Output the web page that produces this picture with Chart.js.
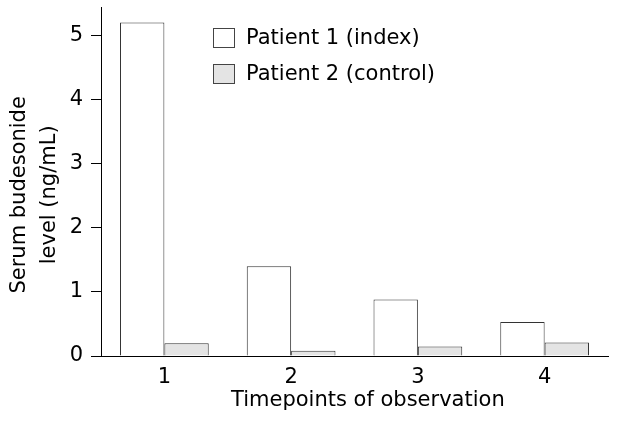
<!DOCTYPE html>
<html>
<head>
<meta charset="utf-8">
<title>Serum budesonide level</title>
<script src="https://cdn.jsdelivr.net/npm/chart.js@4"></script>
<style>
  body { margin: 0; background: #fff; }
  canvas { display: block; }
</style>
</head>
<body>
<canvas id="chart" width="628" height="426"></canvas>
<script>
// values
const timepoints = ['1', '2', '3', '4'];
const patient1 = [5.2, 1.4, 0.88, 0.53];
const patient2 = [0.2, 0.08, 0.15, 0.21];
const seriesNames = ['Patient 1 (index)', 'Patient 2 (control)'];
const yTicks = [0, 1, 2, 3, 4, 5];

const FONT = 'DejaVu Sans';
const SIZE = 21;

// legend drawn inside the plot, stacked vertically
const boxLegend = {
    id: 'boxLegend',
    afterDraw(chart) {
        const ctx = chart.ctx;
        const x0 = chart.chartArea.left + 112;
        let y = chart.chartArea.top + 31;
        ctx.save();
        ctx.font = SIZE + 'px "' + FONT + '"';
        ctx.textBaseline = 'middle';
        chart.data.datasets.forEach(ds => {
            ctx.fillStyle = ds.backgroundColor;
            ctx.fillRect(x0, y - 10, 22, 20);
            ctx.strokeStyle = '#444';
            ctx.lineWidth = 1;
            ctx.strokeRect(x0 + 0.5, y - 9.5, 21, 19);
            ctx.fillStyle = '#000';
            ctx.fillText(ds.label, x0 + 33, y + 1);
            y += 36;
        });
        ctx.restore();
    }
};

new Chart(document.getElementById('chart'), {
    type: 'bar',
    data: {
        labels: timepoints,
        datasets: [
            { label: seriesNames[0], data: patient1, backgroundColor: '#ffffff', borderColor: '#333', borderWidth: 1 },
            { label: seriesNames[1], data: patient2, backgroundColor: '#e4e4e4', borderColor: '#333', borderWidth: 1 }
        ]
    },
    options: {
        responsive: false,
        animation: false,
        layout: { padding: { top: 7, right: 20, left: 0, bottom: 0 } },
        datasets: { bar: { categoryPercentage: 0.7, barPercentage: 1 } },
        plugins: {
            legend: { display: false },
            tooltip: { enabled: false }
        },
        scales: {
            x: {
                grid: { display: false, drawTicks: false },
                border: { display: true, color: '#000', width: 1 },
                ticks: { color: '#000', padding: 9, font: { family: FONT, size: SIZE } },
                title: {
                    display: true,
                    text: '    Timepoints of observation',
                    color: '#000',
                    font: { family: FONT, size: SIZE },
                    padding: { top: 0, bottom: 13 }
                },
                afterFit(scale) {
                    scale.height = 70;
                    scale.paddingLeft = 0;
                    scale.paddingRight = 0;
                }
            },
            y: {
                min: 0,
                max: 5.44,
                grid: { drawOnChartArea: false, drawTicks: true, tickLength: 10, color: '#000' },
                border: { display: true, color: '#000', width: 1 },
                afterBuildTicks(scale) { scale.ticks = yTicks.map(v => ({ value: v })); },
                ticks: { color: '#000', padding: 8, font: { family: FONT, size: SIZE } },
                title: {
                    display: true,
                    text: ['Serum budesonide    ', 'level (ng/mL)    '],
                    color: '#000',
                    font: { family: FONT, size: SIZE, lineHeight: 1.43 },
                    padding: { top: 5, bottom: 0 }
                },
                afterFit(scale) {
                    scale.width = 101;
                    scale.paddingTop = 0;
                    scale.paddingBottom = 0;
                }
            }
        }
    },
    plugins: [boxLegend]
});
</script>
</body>
</html>
